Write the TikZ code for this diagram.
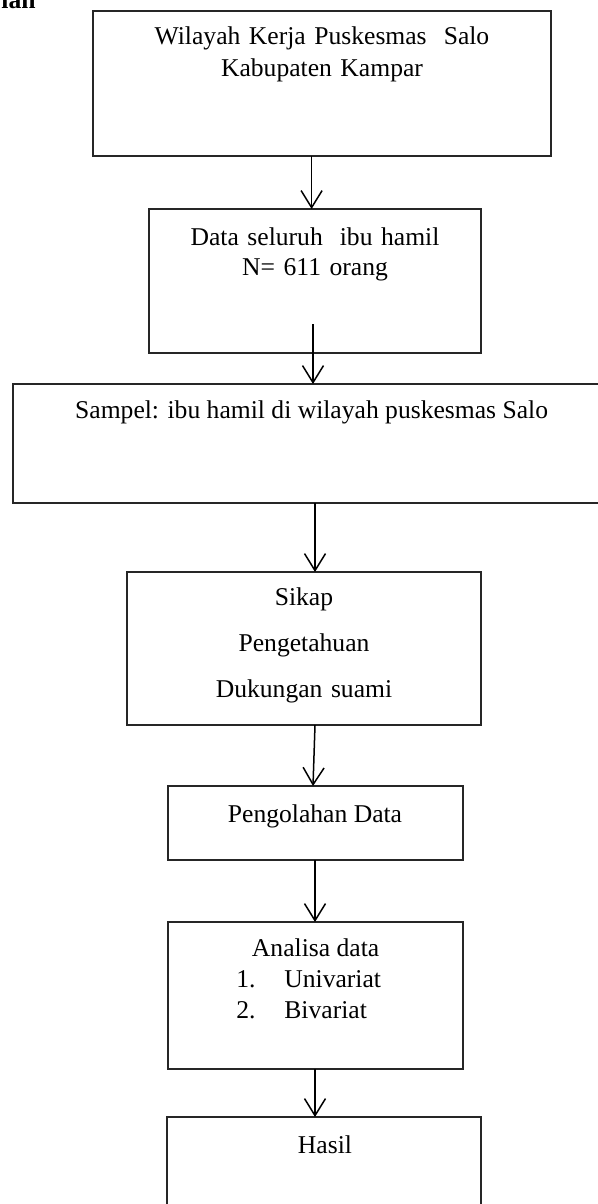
\documentclass[tikz,border=0pt]{standalone}
\usepackage{fontspec}
\setmainfont{Liberation Serif}
\usetikzlibrary{positioning,arrows.meta}

\begin{document}
\begin{tikzpicture}[
  x=0.5pt, y=-0.5pt,
  font=\fontsize{12.8}{16}\selectfont,
  box/.style ={draw=black!85, line width=0.75pt, inner sep=0pt, outer sep=0pt, anchor=north west},
  txt/.style ={inner sep=0pt, anchor=base, align=center},
  arr/.style ={-{Straight Barb[length=8.5pt, width=10.5pt]}, line width=0.75pt}
]
\useasboundingbox (0,0) rectangle (598,1204);
\clip (0,0) rectangle (598,1204);

% ---- heading (cut off at the top) ----
\node[inner sep=0pt, anchor=base east] (head) at (36,9) {\textbf{ian}};

% ---- boxes ----
\node[box, minimum width=229pt,   minimum height=72.5pt] (wil)     at (93,11)   {};
\node[box, minimum width=166pt,   minimum height=72pt]   (data)    at (149,209) {};
\node[box, minimum width=298.5pt, minimum height=59.5pt] (sampel)  at (13,384)  {};
\node[box, minimum width=177pt,   minimum height=76.5pt] (var)     at (127,572) {};
\node[box, minimum width=147.5pt, minimum height=37pt]   (olah)    at (168,786) {};
\node[box, minimum width=147.5pt, minimum height=73.5pt] (analisa) at (168,922) {};
\node[box, minimum width=157pt,   minimum height=60pt]   (hasil)   at (167,1117) {};

% ---- texts ----
\node[txt, text width=229pt] (wiltxt) at (322,45) {Wilayah Kerja Puskesmas\ \ Salo\\Kabupaten Kampar};
\node[txt, text width=166pt, font=\fontsize{12.8}{15}\selectfont] (datatxt) at (315,245)
  {Data seluruh\ \ ibu hamil\\N= 611 orang};
\node[txt] (sampeltxt) at (311.6,418) {Sampel: ibu hamil di wilayah puskesmas Salo};
\node[txt, text width=177pt, font=\fontsize{12.8}{23}\selectfont] (vartxt) at (304,605)
  {Sikap\\Pengetahuan\\Dukungan suami};
\node[txt] (olahtxt) at (315,822) {Pengolahan Data};
\node[txt] (analisatxt) at (315.6,956) {Analisa data};
\node[txt, anchor=base west, align=left, text width=80pt, font=\fontsize{12.8}{15.5}\selectfont] (listtxt) at (236,987)
  {\makebox[24pt][l]{1.}Univariat\\\makebox[24pt][l]{2.}Bivariat};
\node[txt] (hasiltxt) at (325,1153) {Hasil};

% ---- connectors ----
\draw[arr] ([xshift=-5.2pt]wil.south) -- ([xshift=-1.7pt]data.north);
\draw[arr] ([xshift=-1pt, yshift=14.5pt]data.south) -- ([xshift=0.75pt]sampel.north);
\draw[arr] ([xshift=1.75pt]sampel.south) -- ([xshift=5.5pt]var.north);
\draw[arr] ([xshift=5.5pt]var.south) -- ([xshift=-1.25pt]olah.north);
\draw[arr] ([xshift=-0.25pt]olah.south) -- ([xshift=-0.25pt]analisa.north);
\draw[arr] ([xshift=-0.25pt]analisa.south) -- ([xshift=-4.5pt]hasil.north);

\end{tikzpicture}
\end{document}
